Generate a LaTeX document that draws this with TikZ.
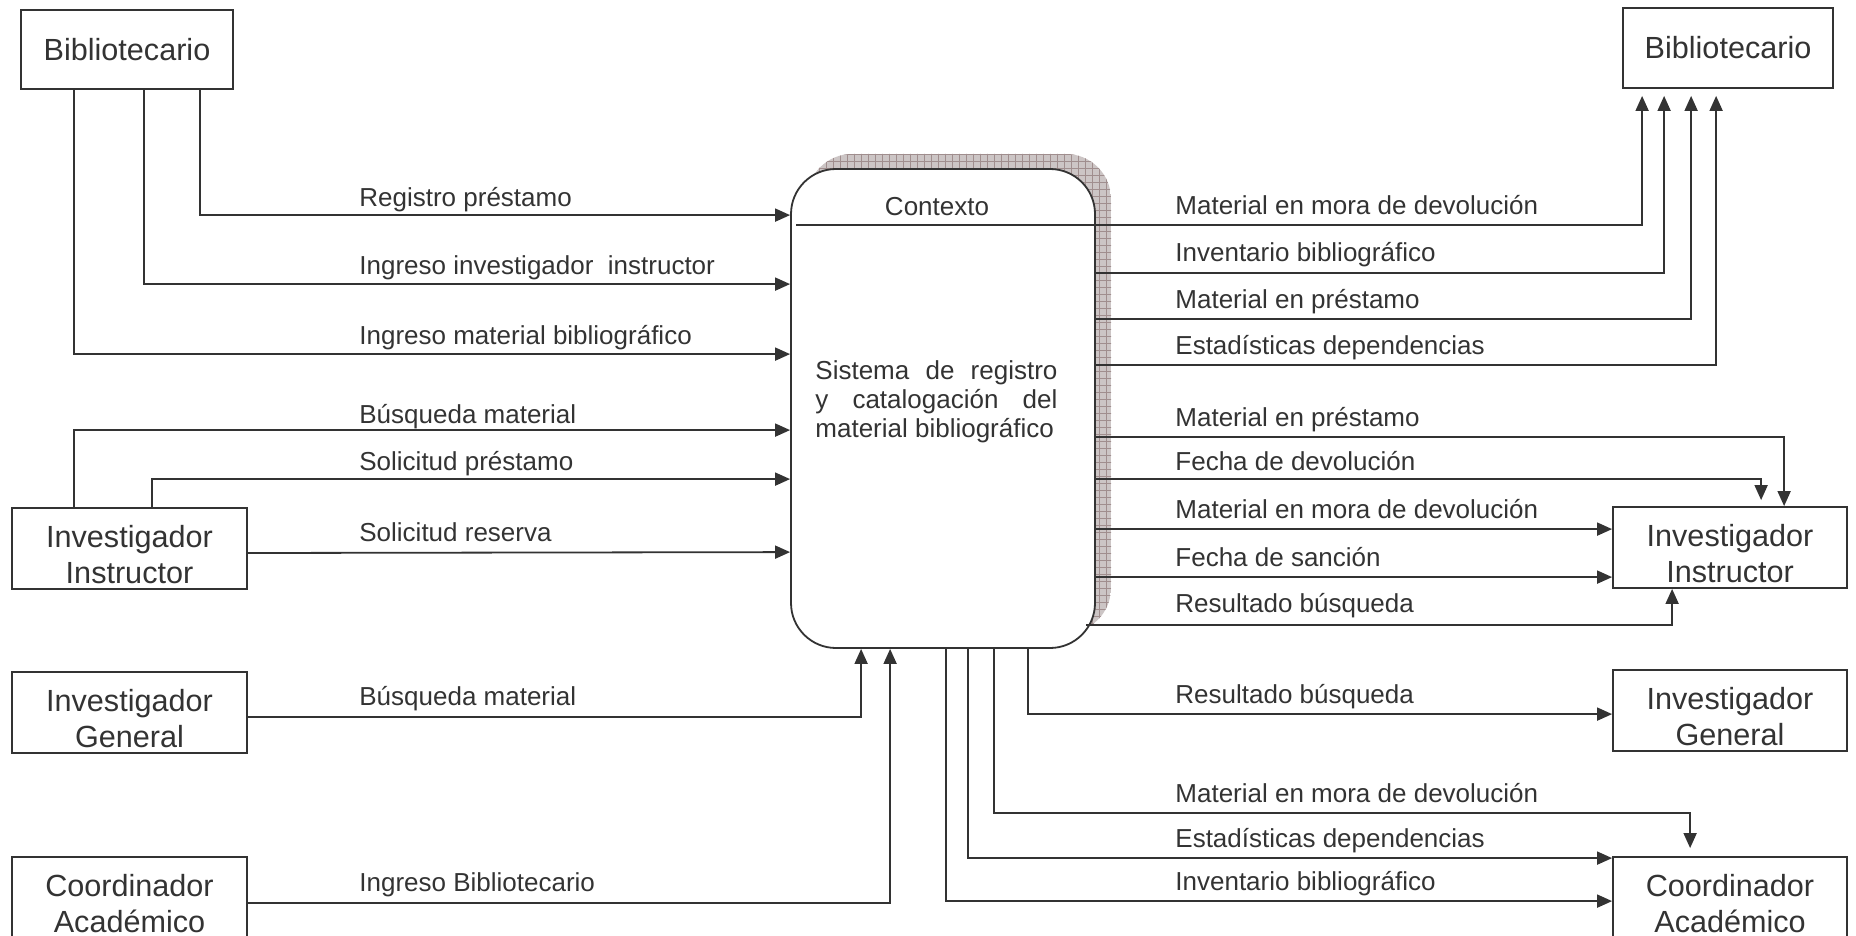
\documentclass[tikz,border=0pt]{standalone}
\usepackage{fontspec}
\setmainfont{Liberation Sans}
\usetikzlibrary{arrows.meta,calc}
\definecolor{ink}{HTML}{333333}
\definecolor{shadowfill}{HTML}{CCC5C5}
\definecolor{shadowgrid}{HTML}{A08E8E}
\tikzset{
  entity/.style={draw=ink, line width=0.9pt, inner sep=0pt, align=center, text=ink,
    font=\fontsize{15.3}{18}\selectfont},
  boxtext/.style={align=center, text=ink, inner sep=0pt, font=\fontsize{15.3}{18}\selectfont},
  lbl/.style={anchor=base west, inner sep=0pt, text=ink, font=\fontsize{13}{15}\selectfont},
  flow/.style={draw=ink, line width=0.9pt, -{Triangle[length=7.5pt,width=6.5pt]}},
}
\begin{document}
\begin{tikzpicture}[x=0.5pt,y=-0.5pt]
\useasboundingbox (0,0) rectangle (1856,936);
% shadow of the process
\begin{scope}
  \clip[rounded corners=22.5pt] (807,154) rectangle (1111,633);
  \fill[shadowfill] (807,154) rectangle (1111,633);
  \draw[shadowgrid, line width=0.35pt, step=3.5pt] (800,150) grid (1120,640);
\end{scope}
% central process
\node[draw=ink, line width=0.9pt, fill=white, rounded corners=22.5pt, minimum width=152pt,
  minimum height=239.5pt, inner sep=0pt] (sys) at (943,408.5) {};
\node[text=ink, font=\fontsize{13}{15}\selectfont, inner sep=0pt] (ctx) at (937,207) {Contexto};
\node[lbl] (t1) at (815,379) {\makebox[121pt][s]{Sistema de registro}};
\node[lbl] (t2) at (815,408) {\makebox[121pt][s]{y catalogación del}};
\node[lbl] (t3) at (815,437) {material bibliográfico};
% entities
\node[entity, minimum width=106pt, minimum height=39.5pt] (bibL) at (127,49.5) {Bibliotecario};
\node[entity, minimum width=105pt, minimum height=40pt] (bibR) at (1728,48) {Bibliotecario};
\node[entity, minimum width=117.5pt, minimum height=40.5pt,
  label={[boxtext, yshift=-3pt]center:Investigador\\Instructor}] (IIL) at (129.5,548.5) {};
\node[entity, minimum width=117.5pt, minimum height=40.5pt,
  label={[boxtext, yshift=-3pt]center:Investigador\\General}] (IGL) at (129.5,712.5) {};
\node[entity, minimum width=117.5pt, minimum height=47.5pt,
  label={[boxtext, yshift=0.5pt]center:Coordinador\\Académico}] (CAL) at (129.5,904.5) {};
\node[entity, minimum width=117pt, minimum height=40.5pt,
  label={[boxtext, yshift=-3pt]center:Investigador\\Instructor}] (IIR) at (1730,547.5) {};
\node[entity, minimum width=117pt, minimum height=40.5pt,
  label={[boxtext, yshift=-3pt]center:Investigador\\General}] (IGR) at (1730,710.5) {};
\node[entity, minimum width=117pt, minimum height=47.5pt,
  label={[boxtext, yshift=0.5pt]center:Coordinador\\Académico}] (CAR) at (1730,904.5) {};
% incoming flows (left)
\draw[flow] ($(bibL.south west)+(180,0)$) |- ($(sys.north west)+(0,47)$);
\draw[flow] ($(bibL.south west)+(124,0)$) |- ($(sys.north west)+(0,116)$);
\draw[flow] ($(bibL.south west)+(54,0)$) |- ($(sys.north west)+(0,186)$);
\draw[flow] ($(IIL.north west)+(63,0)$) |- ($(sys.north west)+(0,262)$);
\draw[flow] ($(IIL.north west)+(141,0)$) |- ($(sys.north west)+(0,311)$);
\draw[flow] ($(IIL.east)+(0,4.5)$) -- ($(sys.north west)+(0,384)$);
\draw[flow] ($(IGL.east)+(0,4.5)$) -| ($(sys.south west)+(71,0)$);
\draw[flow] ($(CAL.east)+(0,-1.5)$) -| ($(sys.south west)+(100,0)$);
% outgoing flows (right)
\draw[flow, shorten >=3.5pt] ($(sys.north west)+(6,57)$) -| ($(bibR.south west)+(20,0)$);
\draw[flow, shorten >=3.5pt] ($(sys.north east)+(0,105)$) -| ($(bibR.south west)+(42,0)$);
\draw[flow, shorten >=3.5pt] ($(sys.north east)+(0,151)$) -| ($(bibR.south west)+(69,0)$);
\draw[flow, shorten >=3.5pt] ($(sys.north east)+(0,197)$) -| ($(bibR.south west)+(94,0)$);
\draw[flow] ($(sys.north east)+(-2,269)$) -| ($(IIR.north west)+(172,0)$);
\draw[flow, shorten >=3pt] ($(sys.north east)+(0,311)$) -| ($(IIR.north west)+(149,0)$);
\draw[flow] ($(sys.north east)+(0,361)$) -- ($(IIR.north west)+(0,23)$);
\draw[flow] ($(sys.north east)+(0,409)$) -- ($(IIR.north west)+(0,71)$);
\draw[flow] ($(sys.south east)+(-10,-24)$) -| ($(IIR.south west)+(60,0)$);
\draw[flow] ($(sys.south west)+(238,0)$) |- ($(IGR.north west)+(0,45)$);
\draw[flow, shorten >=4pt] ($(sys.south west)+(204,0)$) |- ($(CAR.north west)+(78,-43)$) -- ($(CAR.north west)+(78,0)$);
\draw[flow] ($(sys.south west)+(178,0)$) |- ($(CAR.north west)+(0,2)$);
\draw[flow] ($(sys.south west)+(156,0)$) |- ($(CAR.north west)+(0,45)$);
% labels left
\node[lbl] (l1) at (359,206) {Registro préstamo};
\node[lbl] (l2) at (359,274) {Ingreso investigador\ \ instructor};
\node[lbl] (l3) at (359,344) {Ingreso material bibliográfico};
\node[lbl] (l4) at (359,423) {Búsqueda material};
\node[lbl] (l5) at (359,470) {Solicitud préstamo};
\node[lbl] (l6) at (359,541) {Solicitud reserva};
\node[lbl] (l7) at (359,705) {Búsqueda material};
\node[lbl] (l8) at (359,891) {Ingreso Bibliotecario};
% labels right
\node[lbl] (r1) at (1175,214) {Material en mora de devolución};
\node[lbl] (r2) at (1175,262) {Inventario bibliográfico};
\node[lbl] (r3) at (1175,308) {Material en préstamo};
\node[lbl] (r4) at (1175,354) {Estadísticas dependencias};
\node[lbl] (r5) at (1175,426) {Material en préstamo};
\node[lbl] (r6) at (1175,470) {Fecha de devolución};
\node[lbl] (r7) at (1175,518) {Material en mora de devolución};
\node[lbl] (r8) at (1175,566) {Fecha de sanción};
\node[lbl] (r9) at (1175,612) {Resultado búsqueda};
\node[lbl] (r10) at (1175,703) {Resultado búsqueda};
\node[lbl] (r11) at (1175,802) {Material en mora de devolución};
\node[lbl] (r12) at (1175,847) {Estadísticas dependencias};
\node[lbl] (r13) at (1175,890) {Inventario bibliográfico};
\end{tikzpicture}
\end{document}
